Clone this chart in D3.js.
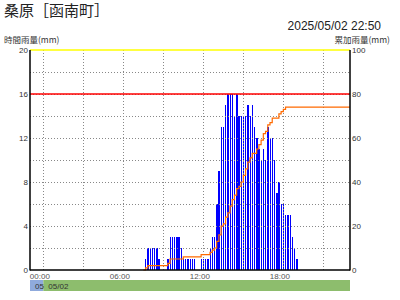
<!DOCTYPE html>
<html><head><meta charset="utf-8">
<script src="https://cdn.jsdelivr.net/npm/d3@7"></script>
<style>
html,body{margin:0;padding:0;background:#fff;}
svg{display:block;}
</style></head>
<body>
<script>
// ---- data ----
const title = "桑原［函南町］";
const stamp = "2025/05/02 22:50";
const leftTitle = "時間雨量(mm)";
const rightTitle = "累加雨量(mm)";
const leftTicks = [0, 4, 8, 12, 16, 20];
const rightTicks = [0, 20, 40, 60, 80, 100];
const timeLabels = ["00:00", "06:00", "12:00", "18:00"];
const gridTimes = ["00:00", "03:00", "06:00", "09:00", "12:00", "15:00", "18:00", "21:00"];
const axisStart = "23:00"; // previous day 05/01
const dayLabels = ["05", "05/02"];
const firstSlot = "07:30";   // 10-minute slots
const lastTime = "22:50";
const warnLevel = 16;        // red line
const maxLevel = 20;         // yellow line
const hourlyRain = [0, 1, 2, 2, 2, 2, 2, 1, 0, 0, 0, 1, 3, 3, 3, 3, 3, 2, 1, 1, 1, 1, 1, 1, 0, 0,
  1, 1, 1, 1, 2, 3, 3, 6, 9, 13, 13, 15, 16, 16, 16, 14, 16, 14, 14, 14, 14, 15, 14, 15, 13, 12,
  11, 10, 11, 10, 13, 12, 12, 10, 7, 8, 6, 6, 5, 5, 5, 3, 2, 1];
const cumulativeRain = [0, 1, 2, 2, 2, 2, 2, 2, 2, 2, 2, 3, 5, 5, 5, 5, 5, 5, 6, 6, 6, 6, 6, 6, 6, 6,
  7, 7, 7, 7, 8, 9, 10, 13, 16, 20, 21, 24, 26, 29, 32, 34, 37, 38, 40, 43, 46, 49, 51, 53, 53, 55,
  57, 59, 62, 63, 66, 67, 69, 69, 69, 71, 72, 73, 74, 74, 74, 74, 74, 74];

// ---- helpers ----
const hm = s => { const [h, m] = s.split(":").map(Number); return h + m / 60; };
const startH = hm(axisStart) - 24; // -1
const slotH = i => hm(firstSlot) + i / 6;

const W = 400, H = 300;
const L = 30, R = 350, T = 50, B = 270;
const svg = d3.select("body").append("svg").attr("width", W).attr("height", H);

const x = d3.scaleLinear().domain([startH, startH + 24]).range([L, R]);
const yL = d3.scaleLinear().domain([0, 20]).range([B, T]);
const yR = d3.scaleLinear().domain([0, 100]).range([B, T]);

svg.append("rect").attr("x", L).attr("y", T).attr("width", R - L).attr("height", B - T).attr("fill", "#fff");

// bars
svg.append("g").selectAll("rect").data(hourlyRain.map((v, i) => ({ v, h: slotH(i) })).filter(d => d.v > 0))
  .join("rect")
  .attr("x", d => x(d.h) - 0.5).attr("width", 1.4)
  .attr("y", d => yL(d.v)).attr("height", d => yL(0) - yL(d.v))
  .attr("fill", "#0000ff").attr("shape-rendering", "crispEdges");

// grid (drawn over bars)
const gridY = d3.range(2, 20, 2);
svg.append("g").attr("transform", `translate(${L},0)`)
  .call(d3.axisLeft(yL).tickValues(gridY).tickSize(-(R - L)).tickFormat(""))
  .call(g => g.select(".domain").remove())
  .selectAll("line").attr("stroke", "#888").attr("stroke-dasharray", "1,2").attr("shape-rendering", "crispEdges");
svg.append("g").attr("transform", `translate(0,${T})`)
  .call(d3.axisBottom(x).tickValues(gridTimes.map(hm)).tickSize(B - T).tickFormat(""))
  .call(g => g.select(".domain").remove())
  .selectAll("line").attr("stroke", "#888").attr("stroke-dasharray", "1,2").attr("shape-rendering", "crispEdges");

// level lines
svg.append("line").attr("x1", L).attr("x2", R).attr("y1", yL(warnLevel)).attr("y2", yL(warnLevel))
  .attr("stroke", "#ff0000").attr("stroke-width", 1.3);
svg.append("line").attr("x1", L).attr("x2", R).attr("y1", yL(maxLevel)).attr("y2", yL(maxLevel))
  .attr("stroke", "#ffff00").attr("stroke-width", 1.6);

// cumulative step line
const cumPts = cumulativeRain.map((v, i) => [slotH(i), v]);
cumPts.push([hm(lastTime) + 10 / 60, cumulativeRain[cumulativeRain.length - 1]]);
svg.append("path").datum(cumPts)
  .attr("d", d3.line().x(d => x(d[0])).y(d => yR(d[1])).curve(d3.curveStepAfter))
  .attr("fill", "none").attr("stroke", "#ff6a00").attr("stroke-width", 1.2);

// axis frame lines
svg.append("line").attr("x1", L).attr("x2", L).attr("y1", T).attr("y2", B + 0.5).attr("stroke", "#000").attr("stroke-width", 1.5);
svg.append("line").attr("x1", R).attr("x2", R).attr("y1", T).attr("y2", B + 0.5).attr("stroke", "#000").attr("stroke-width", 1.5);
svg.append("line").attr("x1", L).attr("x2", R).attr("y1", B).attr("y2", B).attr("stroke", "#000").attr("stroke-width", 1.5);

const tickFont = "'Liberation Sans', Arial, sans-serif";
// left labels
svg.append("g").attr("transform", `translate(${L},0)`)
  .call(d3.axisLeft(yL).tickValues(leftTicks).tickSize(0).tickPadding(2))
  .call(g => g.select(".domain").remove())
  .selectAll("text").attr("font-family", tickFont).attr("font-size", 8).attr("fill", "#333");
// right labels
svg.append("g").attr("transform", `translate(${R},0)`)
  .call(d3.axisRight(yR).tickValues(rightTicks).tickSize(0).tickPadding(2))
  .call(g => g.select(".domain").remove())
  .selectAll("text").attr("font-family", tickFont).attr("font-size", 8).attr("fill", "#333");
// bottom labels
svg.append("g").attr("transform", `translate(0,${B})`)
  .call(d3.axisBottom(x).tickValues(timeLabels.map(hm)).tickSize(0).tickPadding(3).tickFormat((d, i) => timeLabels[i]))
  .call(g => g.select(".domain").remove())
  .selectAll("text").attr("font-family", tickFont).attr("font-size", 8).attr("fill", "#555").attr("dx", -4);

// date band
const dayEdge = x(0);
svg.append("rect").attr("x", L).attr("y", 280).attr("width", dayEdge - L).attr("height", 11).attr("fill", "#8faadc");
svg.append("rect").attr("x", dayEdge).attr("y", 280).attr("width", R - dayEdge).attr("height", 11).attr("fill", "#8dbd6d");
svg.append("text").attr("x", L + 5).attr("y", 289).text(dayLabels[0])
  .attr("font-family", tickFont).attr("font-size", 8).attr("fill", "#333");
svg.append("text").attr("x", dayEdge + 5).attr("y", 289).text(dayLabels[1])
  .attr("font-family", tickFont).attr("font-size", 8).attr("fill", "#333");

// titles
const cjk = "'Noto Sans CJK JP', sans-serif";
svg.append("text").attr("x", 4).attr("y", 16).text(title)
  .attr("font-family", cjk).attr("font-size", 15).attr("fill", "#222");
svg.append("text").attr("x", 381).attr("y", 30.3).attr("text-anchor", "end").text(stamp)
  .attr("font-family", tickFont).attr("font-size", 12).attr("fill", "#222");
svg.append("text").attr("x", 4).attr("y", 42.8).text(leftTitle)
  .attr("font-family", cjk).attr("font-size", 8.5).attr("fill", "#333");
svg.append("text").attr("x", 390).attr("y", 42.8).attr("text-anchor", "end").text(rightTitle)
  .attr("font-family", cjk).attr("font-size", 8.5).attr("fill", "#333");
</script>
</body></html>
